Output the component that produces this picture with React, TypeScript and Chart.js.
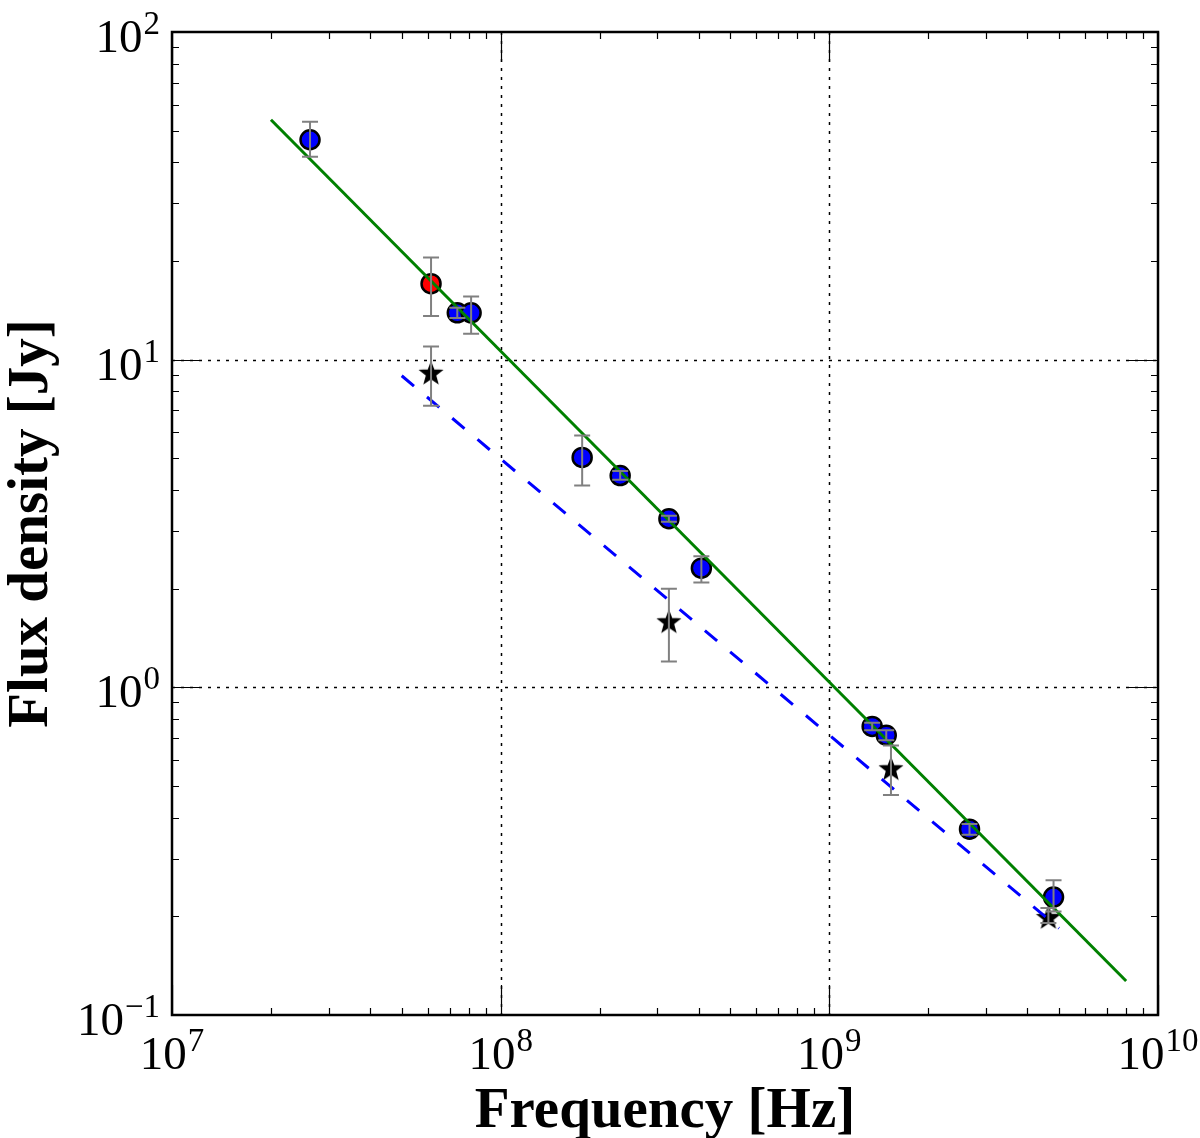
import { useEffect, useRef } from 'react';
import { Chart, registerables, type Plugin } from 'chart.js';

Chart.register(...registerables);

// blue circles: frequency [Hz], flux density [Jy] and error range
const circleFreq = [2.63e7, 7.38e7, 8.13e7, 1.77e8, 2.31e8, 3.25e8, 4.08e8, 1.35e9, 1.49e9, 2.67e9, 4.81e9];
const circleFlux = [46.9, 13.9, 13.9, 5.03, 4.43, 3.27, 2.31, 0.76, 0.714, 0.369, 0.229];
const circleLow = [41.6, 13.4, 12.0, 4.13, 4.3, 3.2, 2.09, 0.74, 0.69, 0.355, 0.207];
const circleHigh = [53.2, 14.4, 15.6, 5.87, 4.57, 3.34, 2.51, 0.78, 0.74, 0.383, 0.258];

// red circle
const redFreq = [6.14e7];
const redFlux = [17.06];
const redLow = [13.6];
const redHigh = [20.5];

// black stars
const starFreq = [6.14e7, 3.25e8, 1.54e9, 4.64e9];
const starFlux = [9.12, 1.59, 0.566, 0.199];
const starLow = [7.24, 1.2, 0.469, 0.191];
const starHigh = [10.96, 2.0, 0.665, 0.212];

// fitted power laws (end points)
const fitFreq = [2e7, 8e9];
const fitFlux = [54, 0.127];
const dashFreq = [5e7, 5e9];
const dashFlux = [8.93, 0.184];

// axis decades
const xDecades = [7, 8, 9, 10];
const yDecades = [-1, 0, 1, 2];

const SERIF = '"Liberation Serif", "DejaVu Serif", serif';

const toPoints = (xs: number[], ys: number[]) => xs.map((x, i) => ({ x, y: ys[i] }));

function makeStar(): HTMLCanvasElement {
  const size = 28;
  const c = document.createElement('canvas');
  c.width = size;
  c.height = size;
  const ctx = c.getContext('2d')!;
  const cx = size / 2;
  const cy = size / 2 + 1;
  const outer = 11;
  const inner = 4.6;
  ctx.beginPath();
  for (let i = 0; i < 10; i++) {
    const r = i % 2 === 0 ? outer : inner;
    const a = -Math.PI / 2 + (i * Math.PI) / 5;
    const px = cx + r * Math.cos(a);
    const py = cy + r * Math.sin(a);
    if (i === 0) ctx.moveTo(px, py);
    else ctx.lineTo(px, py);
  }
  ctx.closePath();
  ctx.fillStyle = '#000000';
  ctx.fill();
  ctx.lineWidth = 1.5;
  ctx.strokeStyle = '#000000';
  ctx.stroke();
  return c;
}

const errorSets = [
  { xs: circleFreq, lo: circleLow, hi: circleHigh },
  { xs: redFreq, lo: redLow, hi: redHigh },
  { xs: starFreq, lo: starLow, hi: starHigh },
];

function drawPower(ctx: CanvasRenderingContext2D, exp: number, x: number, y: number, align: 'center' | 'right') {
  const base = '10';
  const sup = exp < 0 ? '\u2212' + Math.abs(exp) : String(exp);
  ctx.font = `47px ${SERIF}`;
  const wb = ctx.measureText(base).width;
  ctx.font = `33px ${SERIF}`;
  const ws = ctx.measureText(sup).width;
  const total = wb + ws + 1;
  const start = align === 'center' ? x - total / 2 : x - total;
  ctx.textAlign = 'left';
  ctx.textBaseline = 'alphabetic';
  ctx.fillStyle = '#000';
  ctx.font = `47px ${SERIF}`;
  ctx.fillText(base, start, y);
  ctx.font = `33px ${SERIF}`;
  ctx.fillText(sup, start + wb + 1, y - 18);
}

const framePlugin: Plugin<'scatter'> = {
  id: 'frame',
  beforeDatasetsDraw(chart) {
    const { ctx, chartArea: a, scales } = chart;
    ctx.save();
    ctx.strokeStyle = '#000';
    ctx.lineWidth = 1.5;
    ctx.setLineDash([3, 6]);
    xDecades.slice(1, -1).forEach((d) => {
      const px = Math.round(scales.x.getPixelForValue(10 ** d)) + 0.5;
      ctx.beginPath();
      ctx.moveTo(px, a.top);
      ctx.lineTo(px, a.bottom);
      ctx.stroke();
    });
    yDecades.slice(1, -1).forEach((d) => {
      const py = Math.round(scales.y.getPixelForValue(10 ** d)) + 0.5;
      ctx.beginPath();
      ctx.moveTo(a.left, py);
      ctx.lineTo(a.right, py);
      ctx.stroke();
    });
    ctx.restore();
  },
  afterDatasetsDraw(chart) {
    const { ctx, scales } = chart;
    ctx.save();
    ctx.strokeStyle = '#808080';
    ctx.lineWidth = 2;
    errorSets.forEach(({ xs, lo, hi }) => {
      xs.forEach((f, i) => {
        const px = scales.x.getPixelForValue(f);
        const y1 = scales.y.getPixelForValue(lo[i]);
        const y2 = scales.y.getPixelForValue(hi[i]);
        ctx.beginPath();
        ctx.moveTo(px, y1);
        ctx.lineTo(px, y2);
        ctx.moveTo(px - 8, y1);
        ctx.lineTo(px + 8, y1);
        ctx.moveTo(px - 8, y2);
        ctx.lineTo(px + 8, y2);
        ctx.stroke();
      });
    });
    ctx.restore();
  },
  afterDraw(chart) {
    const { ctx, chartArea: a, scales } = chart;
    ctx.save();
    // ticks pointing inwards on all four sides
    ctx.strokeStyle = '#000';
    ctx.lineWidth = 1.2;
    const tick = (major: boolean) => (major ? 30 : 7);
    xDecades.forEach((d, di) => {
      for (let k = 1; k <= 9; k++) {
        if (k > 1 && di === xDecades.length - 1) break;
        const px = Math.round(scales.x.getPixelForValue(k * 10 ** d)) + 0.5;
        const len = tick(k === 1);
        ctx.beginPath();
        ctx.moveTo(px, a.bottom);
        ctx.lineTo(px, a.bottom - len);
        ctx.moveTo(px, a.top);
        ctx.lineTo(px, a.top + len);
        ctx.stroke();
      }
    });
    yDecades.forEach((d, di) => {
      for (let k = 1; k <= 9; k++) {
        if (k > 1 && di === yDecades.length - 1) break;
        const py = Math.round(scales.y.getPixelForValue(k * 10 ** d)) + 0.5;
        const len = tick(k === 1);
        ctx.beginPath();
        ctx.moveTo(a.left, py);
        ctx.lineTo(a.left + len, py);
        ctx.moveTo(a.right, py);
        ctx.lineTo(a.right - len, py);
        ctx.stroke();
      }
    });
    // frame
    ctx.lineWidth = 2.5;
    ctx.strokeRect(a.left, a.top, a.right - a.left, a.bottom - a.top);

    // tick labels
    xDecades.forEach((d) => drawPower(ctx, d, scales.x.getPixelForValue(10 ** d), a.bottom + 54, 'center'));
    yDecades.forEach((d) => drawPower(ctx, d, a.left - 12, scales.y.getPixelForValue(10 ** d) + 20, 'right'));

    // axis titles
    ctx.fillStyle = '#000';
    ctx.font = `bold 57px ${SERIF}`;
    ctx.textAlign = 'center';
    ctx.textBaseline = 'alphabetic';
    ctx.fillText('Frequency [Hz]', (a.left + a.right) / 2, 1127);
    ctx.translate(47, (a.top + a.bottom) / 2);
    ctx.rotate(-Math.PI / 2);
    ctx.fillText('Flux density [Jy]', 0, 0);
    ctx.restore();
  },
};

export default function App() {
  const canvasRef = useRef<HTMLCanvasElement>(null);

  useEffect(() => {
    if (!canvasRef.current) return;
    const star = makeStar();
    const chart = new Chart(canvasRef.current, {
      type: 'scatter',
      data: {
        datasets: [
          {
            label: 'fit',
            data: toPoints(fitFreq, fitFlux),
            showLine: true,
            borderColor: '#008000',
            borderWidth: 3,
            pointRadius: 0,
            order: 1,
          },
          {
            label: 'dashed fit',
            data: toPoints(dashFreq, dashFlux),
            showLine: true,
            borderColor: '#0000ff',
            borderWidth: 3,
            borderDash: [16, 17],
            pointRadius: 0,
            order: 1,
          },
          {
            label: 'stars',
            data: toPoints(starFreq, starFlux),
            pointStyle: star,
            order: 2,
          },
          {
            label: 'red',
            data: toPoints(redFreq, redFlux),
            pointRadius: 9.5,
            borderWidth: 2.5,
            borderColor: '#000',
            backgroundColor: '#ff0000',
            order: 3,
          },
          {
            label: 'circles',
            data: toPoints(circleFreq, circleFlux),
            pointRadius: 9.5,
            borderWidth: 2.5,
            borderColor: '#000',
            backgroundColor: '#0000ff',
            order: 3,
          },
        ],
      },
      options: {
        animation: false,
        responsive: true,
        maintainAspectRatio: false,
        layout: { padding: { top: 32, right: 42, left: 0, bottom: 0 } },
        plugins: { legend: { display: false }, tooltip: { enabled: false } },
        scales: {
          x: {
            type: 'logarithmic',
            min: 1e7,
            max: 1e10,
            ticks: { display: false },
            grid: { display: false },
            border: { display: false },
            afterFit: (scale) => {
              scale.height = 123;
            },
          },
          y: {
            type: 'logarithmic',
            min: 0.1,
            max: 100,
            ticks: { display: false },
            grid: { display: false },
            border: { display: false },
            afterFit: (scale) => {
              scale.width = 172;
            },
          },
        },
      },
      plugins: [framePlugin],
    });
    return () => chart.destroy();
  }, []);

  return (
    <div style={{ position: 'absolute', left: 0, top: 0, width: 1200, height: 1138, background: '#fff' }}>
      <canvas ref={canvasRef} />
    </div>
  );
}
